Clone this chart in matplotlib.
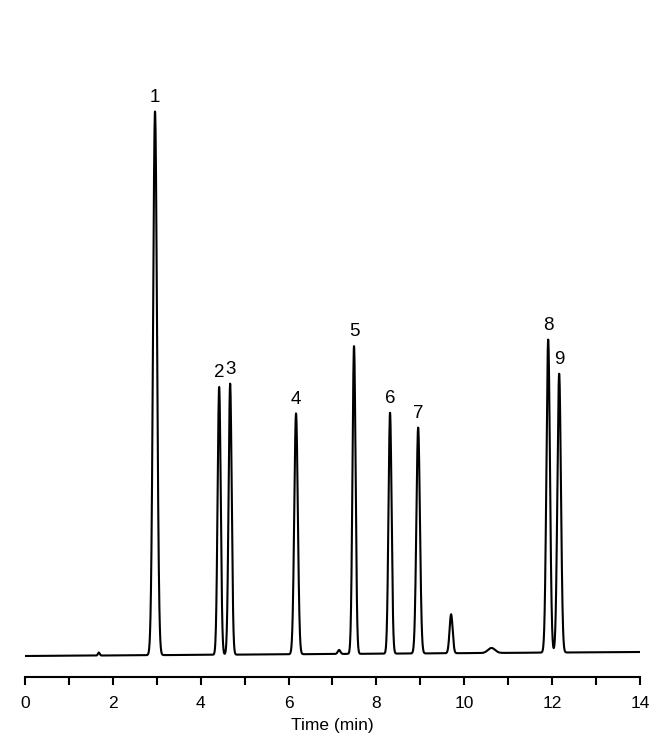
import numpy as np
import matplotlib
matplotlib.use("Agg")
import matplotlib.pyplot as plt

plt.rcParams['font.family'] = ['Liberation Sans', 'DejaVu Sans']

# Peak table (retention time in min, height in arbitrary units, width sigma in min)
peak_times = [1.68, 2.96, 4.42, 4.67, 6.17, 7.15, 7.49, 8.31, 8.95, 9.70, 10.62, 11.91, 12.16]
peak_heights = [3, 544, 268, 271, 241, 4, 308, 241, 226, 39, 5, 313, 279]
peak_sigmas = [0.02, 0.045, 0.035, 0.035, 0.04, 0.03, 0.035, 0.035, 0.04, 0.035, 0.08, 0.04, 0.04]
peak_labels = ['', '1', '2', '3', '4', '', '5', '6', '7', '', '', '8', '9']
baseline_start = 0.0
baseline_end = 4.0

t = np.linspace(0, 14, 4000)
signal = baseline_start + (baseline_end - baseline_start) * t / 14
for tr, h, s in zip(peak_times, peak_heights, peak_sigmas):
    signal = signal + h * np.exp(-0.5 * ((t - tr) / s) ** 2)

fig = plt.figure(figsize=(6.65, 7.44), dpi=100)
ax = fig.add_axes([25 / 665, 67 / 744, 615 / 665, 657 / 744])
ax.plot(t, signal, color='black', lw=1.5)

for tr, h, lab in zip(peak_times, peak_heights, peak_labels):
    if lab:
        ax.annotate(lab, (tr, h + baseline_end * tr / 14), xytext=(0, 4),
                    textcoords='offset points', ha='center', va='bottom', fontsize=13.5)

ax.set_xlim(0, 14)
ax.set_ylim(-21, 636)
for sp in ['top', 'right', 'left']:
    ax.spines[sp].set_visible(False)
ax.spines['bottom'].set_linewidth(1.5)
ax.set_yticks([])
ax.set_xticks(np.arange(0, 15, 2))
ax.set_xticks(np.arange(1, 14, 2), minor=True)
ax.tick_params(axis='x', which='both', direction='out', length=5.5, width=1.5, labelsize=12.5, pad=8)
ax.set_xlabel('Time (min)', fontsize=12.5, labelpad=5)

fig.savefig('out.png', dpi=100)
